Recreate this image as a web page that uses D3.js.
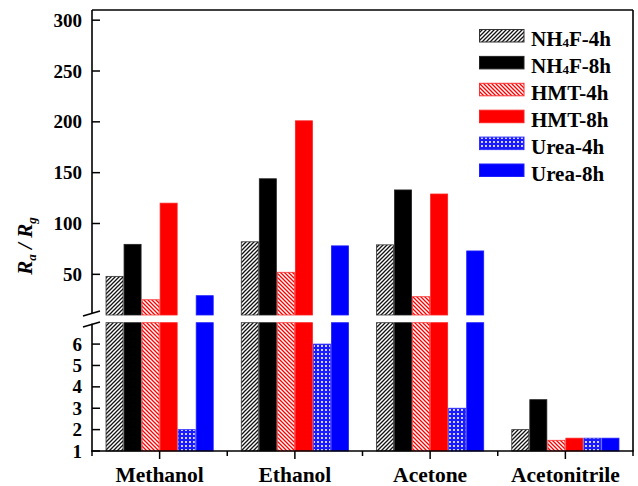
<!DOCTYPE html>
<html><head><meta charset="utf-8">
<script src="https://cdn.jsdelivr.net/npm/d3@7"></script>
<style>body{margin:0;background:#fff}svg{display:block}</style>
</head><body>
<script>
const categories = ["Methanol","Ethanol","Acetone","Acetonitrile"];
const seriesNames = ["NH4F-4h","NH4F-8h","HMT-4h","HMT-8h","Urea-4h","Urea-8h"];
const nh4f4h = [48, 82, 79, 2.0];
const nh4f8h = [79.5, 144, 133, 3.4];
const hmt4h  = [25, 52, 28, 1.5];
const hmt8h  = [120, 201, 129, 1.6];
const urea4h = [2.0, 6.0, 3.0, 1.6];
const urea8h = [29, 78, 73, 1.6];
const upperTicks = [50,100,150,200,250,300];
const lowerTicks = [1,2,3,4,5,6];
const upperDomain = [10, 310];
const lowerDomain = [1, 7];

const seriesValues = [nh4f4h, nh4f8h, hmt4h, hmt8h, urea4h, urea8h];
const fills = ["url(#hatchK)","#000000","url(#hatchR)","#ff0000","url(#dotsB)","#0000ff"];
const strokes = ["#333333","#222222","#ff3030","#ff2020","#3030ff","#2020ff"];

const W=638,H=486;
const L=92,R=633,T=10,B=451;
const upTop=10, upBot=315, loTop=322.7;
const font = "'Liberation Serif','Times New Roman',serif";

const svg=d3.select("body").append("svg").attr("width",W).attr("height",H);
const defs=svg.append("defs");
const pk=defs.append("pattern").attr("id","hatchK").attr("patternUnits","userSpaceOnUse").attr("width",4).attr("height",4);
pk.append("rect").attr("width",4).attr("height",4).attr("fill","#fff");
pk.append("path").attr("d","M-1,1 l2,-2 M0,4 l4,-4 M3,5 l2,-2").attr("stroke","#111").attr("stroke-width",1.3);
const pr=defs.append("pattern").attr("id","hatchR").attr("patternUnits","userSpaceOnUse").attr("width",4).attr("height",4);
pr.append("rect").attr("width",4).attr("height",4).attr("fill","#fff");
pr.append("path").attr("d","M-1,3 l2,2 M0,0 l4,4 M3,-1 l2,2").attr("stroke","#ff0000").attr("stroke-width",1.3);
const pb=defs.append("pattern").attr("id","dotsB").attr("patternUnits","userSpaceOnUse").attr("width",4).attr("height",4);
pb.append("rect").attr("width",4).attr("height",4).attr("fill","#1a1aff");
pb.append("circle").attr("cx",2).attr("cy",2).attr("r",1.05).attr("fill","#fff");

const x0=d3.scaleBand().domain(categories).range([L,R]).paddingInner(0.2).paddingOuter(0.1);
const x1=d3.scaleBand().domain(seriesNames).range([0,x0.bandwidth()]);
const yU=d3.scaleLinear().domain(upperDomain).range([upBot,upTop]);
const yL=d3.scaleLinear().domain(lowerDomain).range([B,loTop]);

const data=[];
categories.forEach((c,i)=>seriesNames.forEach((s,j)=>data.push({c,s,j,v:seriesValues[j][i]})));

const g=svg.append("g");
g.selectAll("rect.lo").data(data).join("rect").attr("class","lo")
 .attr("x",d=>x0(d.c)+x1(d.s)+0.5).attr("width",x1.bandwidth()-1)
 .attr("y",d=>yL(Math.min(d.v,lowerDomain[1]))).attr("height",d=>yL(lowerDomain[0])-yL(Math.min(d.v,lowerDomain[1])))
 .attr("fill",d=>fills[d.j]).attr("stroke",d=>strokes[d.j]).attr("stroke-width",0.8);
g.selectAll("rect.up").data(data.filter(d=>d.v>upperDomain[0])).join("rect").attr("class","up")
 .attr("x",d=>x0(d.c)+x1(d.s)+0.5).attr("width",x1.bandwidth()-1)
 .attr("y",d=>yU(d.v)).attr("height",d=>yU(upperDomain[0])-yU(d.v))
 .attr("fill",d=>fills[d.j]).attr("stroke",d=>strokes[d.j]).attr("stroke-width",0.8);

const ax=svg.append("g").attr("stroke","#000").attr("stroke-width",1.6).attr("fill","none");
ax.append("line").attr("x1",L).attr("x2",R).attr("y1",T).attr("y2",T);
ax.append("line").attr("x1",R).attr("x2",R).attr("y1",T).attr("y2",B);
ax.append("line").attr("x1",L).attr("x2",L).attr("y1",T).attr("y2",upBot-2);
ax.append("line").attr("x1",L).attr("x2",L).attr("y1",loTop+1).attr("y2",B);
ax.append("line").attr("x1",L-1).attr("x2",R+0.8).attr("y1",B).attr("y2",B);
ax.append("line").attr("x1",83).attr("y1",316).attr("x2",100).attr("y2",311);
ax.append("line").attr("x1",83).attr("y1",327).attr("x2",100).attr("y2",322);

const tg=svg.append("g");
tg.selectAll("line.tu").data(upperTicks).join("line").attr("x1",L).attr("x2",L+8)
 .attr("y1",d=>yU(d)).attr("y2",d=>yU(d)).attr("stroke","#000").attr("stroke-width",1.5);
tg.selectAll("line.tl").data(lowerTicks).join("line").attr("x1",L).attr("x2",L+8)
 .attr("y1",d=>yL(d)).attr("y2",d=>yL(d)).attr("stroke","#000").attr("stroke-width",1.5);
const lab=svg.append("g").attr("font-family",font).attr("font-weight","bold").attr("font-size",19).attr("text-anchor","end").attr("fill","#000");
lab.selectAll("text.u").data(upperTicks).join("text").attr("x",82).attr("y",d=>yU(d)+6.5).text(d=>d);
lab.selectAll("text.l").data(lowerTicks).join("text").attr("x",82).attr("y",d=>yL(d)+6.5).text(d=>d);

const step=x0.step();
const bounds=d3.range(categories.length+1).map(k=>L+k*step);
tg.selectAll("line.xm").data(bounds).join("line").attr("x1",d=>d).attr("x2",d=>d).attr("y1",B).attr("y2",B+5).attr("stroke","#000").attr("stroke-width",1.5);
tg.selectAll("line.xc").data(categories).join("line").attr("x1",d=>x0(d)+x0.bandwidth()/2).attr("x2",d=>x0(d)+x0.bandwidth()/2).attr("y1",B).attr("y2",B+8).attr("stroke","#000").attr("stroke-width",1.5);
svg.append("g").attr("font-family",font).attr("font-weight","bold").attr("font-size",21.5).attr("text-anchor","middle")
 .selectAll("text").data(categories).join("text").attr("x",d=>x0(d)+x0.bandwidth()/2).attr("y",482).text(d=>d);

const yt=svg.append("text").attr("transform","translate(32,246) rotate(-90)").attr("font-family",font).attr("font-weight","bold").attr("font-style","italic").attr("font-size",21).attr("text-anchor","middle");
yt.append("tspan").text("R");
yt.append("tspan").attr("font-size",13).attr("dy",4).text("a");
yt.append("tspan").attr("dy",-4).text(" / R");
yt.append("tspan").attr("font-size",13).attr("dy",4).text("g");

const lg=svg.append("g");
const ly0=29.5, lstep=26.9;
seriesNames.forEach((s,j)=>{
  const y=ly0+j*lstep;
  lg.append("rect").attr("x",479.5).attr("y",y).attr("width",44.5).attr("height",12.5).attr("fill",fills[j]).attr("stroke",strokes[j]).attr("stroke-width",1);
  const t=lg.append("text").attr("x",531).attr("y",y+16.5).attr("font-family",font).attr("font-weight","bold").attr("font-size",21);
  const m=s.match(/^NH4(.*)$/);
  if(m){ t.append("tspan").text("NH"); t.append("tspan").attr("font-size",13).attr("dy",1).text("4"); t.append("tspan").attr("dy",-1).text(m[1]); }
  else t.text(s);
});
</script>
</body></html>
